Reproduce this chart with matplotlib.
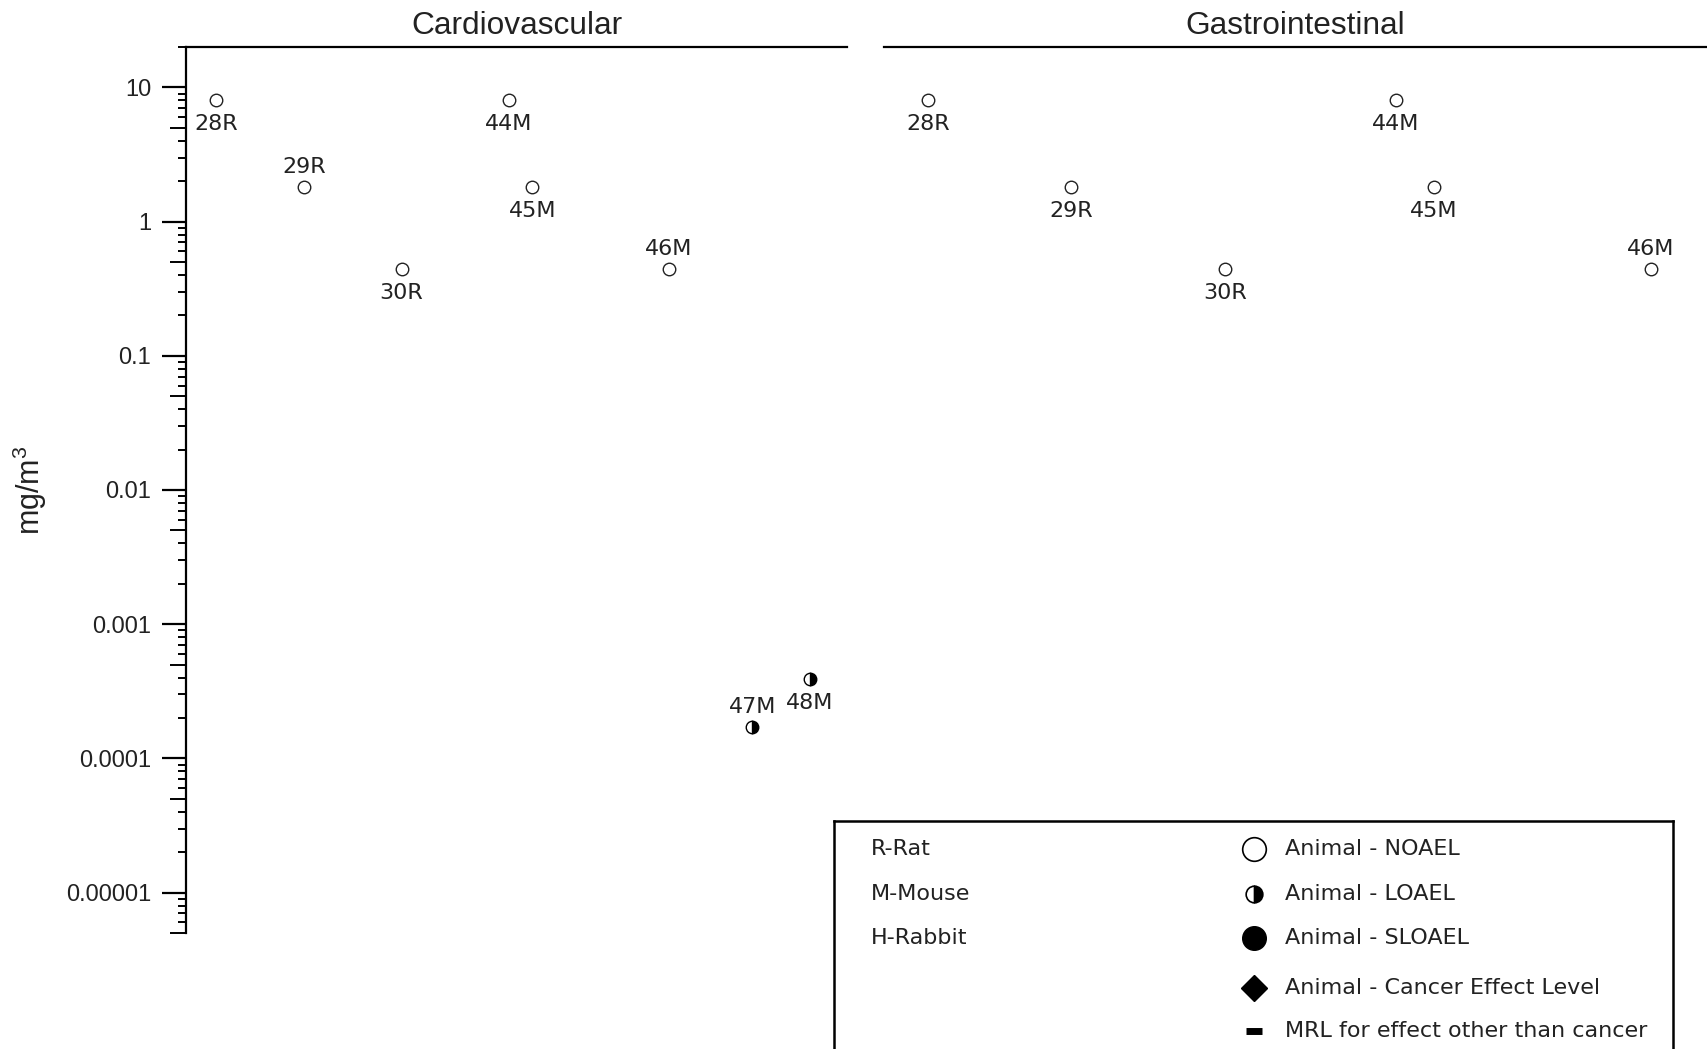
import matplotlib

matplotlib.use("Agg")
import matplotlib.pyplot as plt
from matplotlib.ticker import FixedLocator, LogLocator, NullFormatter

# Levels of significant exposure, mg/m3, per study point
CARDIO_LABELS = ["28R", "29R", "30R", "44M", "45M", "46M", "47M", "48M"]
CARDIO_VALUES = [8.0, 1.8, 0.44, 8.0, 1.8, 0.44, 0.00017, 0.00039]
CARDIO_EFFECT = ["NOAEL", "NOAEL", "NOAEL", "NOAEL", "NOAEL", "NOAEL", "LOAEL", "LOAEL"]
CARDIO_POS = [0.045, 0.178, 0.326, 0.488, 0.524, 0.730, 0.857, 0.944]
CARDIO_LABEL_SIDE = ["below", "above", "below", "below", "below", "above", "above", "below"]

GASTRO_LABELS = ["28R", "29R", "30R", "44M", "45M", "46M"]
GASTRO_VALUES = [8.0, 1.8, 0.44, 8.0, 1.8, 0.44]
GASTRO_EFFECT = ["NOAEL", "NOAEL", "NOAEL", "NOAEL", "NOAEL", "NOAEL"]
GASTRO_POS = [0.054, 0.227, 0.414, 0.622, 0.668, 0.932]
GASTRO_LABEL_SIDE = ["below", "below", "below", "below", "below", "above"]

Y_TICKS = [10, 1, 0.1, 0.01, 0.001, 0.0001, 0.00001]
Y_TICK_LABELS = ["10", "1", "0.1", "0.01", "0.001", "0.0001", "0.00001"]

SPECIES_KEY = ["R-Rat", "M-Mouse", "H-Rabbit"]
SYMBOL_KEY = [
    "Animal - NOAEL",
    "Animal - LOAEL",
    "Animal - SLOAEL",
    "Animal - Cancer Effect Level",
    "MRL for effect other than cancer",
]

AXIS_FONT = "Liberation Sans"
LABEL_FONT = "DejaVu Sans"

plt.rcParams.update(
    {
        "mathtext.fontset": "custom",
        "mathtext.rm": "Liberation Sans",
        "mathtext.it": "Liberation Sans:italic",
        "mathtext.bf": "Liberation Sans:bold",
    }
)

MARKER_STYLE = {
    "NOAEL": dict(marker="o", markerfacecolor="white", markeredgecolor="#222222"),
    "LOAEL": dict(marker="o", fillstyle="right", markerfacecolor="black",
                  markerfacecoloralt="white", markeredgecolor="black"),
}


def plot_panel(ax, pos, values, effects, labels, sides):
    for x, y, eff, lab, side in zip(pos, values, effects, labels, sides):
        ax.plot([x], [y], linestyle="none", markersize=9, markeredgewidth=1.0,
                zorder=3, **MARKER_STYLE[eff])
        dy = -17 if side == "below" else 15
        ax.annotate(lab, (x, y), xytext=(0, dy), textcoords="offset points",
                    ha="center", va="center", fontsize=16, family=LABEL_FONT,
                    color="#222222")


fig = plt.figure(figsize=(17.07, 10.49), dpi=100)
ax_l = fig.add_axes([0.1090, 0.1106, 0.3872, 0.8446])
ax_r = fig.add_axes([0.5179, 0.1106, 0.4821, 0.8446], sharey=ax_l)

for ax in (ax_l, ax_r):
    ax.set_yscale("log")
    ax.set_ylim(5e-6, 20)
    ax.set_xlim(0, 1)
    ax.set_xticks([])
    for side in ("right", "bottom"):
        ax.spines[side].set_visible(False)
    ax.spines["top"].set_linewidth(1.6)
    ax.spines["left"].set_linewidth(1.6)

ax_r.spines["left"].set_visible(False)
ax_r.tick_params(axis="y", which="both", left=False, labelleft=False)

plot_panel(ax_l, CARDIO_POS, CARDIO_VALUES, CARDIO_EFFECT, CARDIO_LABELS, CARDIO_LABEL_SIDE)
plot_panel(ax_r, GASTRO_POS, GASTRO_VALUES, GASTRO_EFFECT, GASTRO_LABELS, GASTRO_LABEL_SIDE)

ax_l.yaxis.set_major_locator(FixedLocator(Y_TICKS))
ax_l.set_yticklabels(Y_TICK_LABELS, family=AXIS_FONT, fontsize=17, color="#222222")
ax_l.yaxis.set_minor_locator(LogLocator(base=10, subs=[2, 3, 4, 6, 7, 8, 9], numticks=20))
ax_l.yaxis.set_minor_formatter(NullFormatter())
ax_l.tick_params(axis="y", which="major", length=17, width=1.6, pad=8)
ax_l.tick_params(axis="y", which="minor", length=6, width=1.4)

# medium ticks at the 5 x 10^k positions
mid = ax_l.secondary_yaxis("left")
mid.set_yscale("log")
mid.yaxis.set_major_locator(LogLocator(base=10, subs=[5], numticks=20))
mid.yaxis.set_minor_locator(FixedLocator([]))
mid.tick_params(axis="y", which="major", length=11.5, width=1.4, labelleft=False)
mid.spines["left"].set_visible(False)

ax_l.set_ylabel("mg/m$^{3}$", family=AXIS_FONT, fontsize=22, color="#222222")
ax_l.yaxis.set_label_coords(-0.207, 0.5)

ax_l.set_title("Cardiovascular", family=AXIS_FONT, fontsize=22.8, pad=9, color="#222222")
ax_r.set_title("Gastrointestinal", family=AXIS_FONT, fontsize=22.8, pad=9, color="#222222")

# key box (its lower edge runs off the page, as in the source figure)
key = fig.add_axes([0.4886, -0.020, 0.4915, 0.2374])
key.set_xlim(0, 1)
key.set_ylim(0, 1)
key.set_xticks([])
key.set_yticks([])
for s in key.spines.values():
    s.set_linewidth(1.8)

row_y = [0.888, 0.707, 0.530, 0.328, 0.157]
for name, y in zip(SPECIES_KEY, row_y):
    key.text(0.044, y, name, family=LABEL_FONT, fontsize=16, va="center", color="#222222")

key_marks = [
    dict(marker="o", markersize=17, markerfacecolor="white", markeredgecolor="black", markeredgewidth=1.2),
    dict(marker="o", markersize=12, fillstyle="right", markerfacecolor="black",
         markerfacecoloralt="white", markeredgecolor="black", markeredgewidth=1.2),
    dict(marker="o", markersize=17, markerfacecolor="black", markeredgecolor="black"),
    dict(marker="D", markersize=13, markerfacecolor="black", markeredgecolor="black"),
    dict(marker="_", markersize=12, markeredgewidth=5, color="black"),
]
for label, style, y in zip(SYMBOL_KEY, key_marks, row_y):
    key.plot([0.5006], [y], linestyle="none", **style)
    key.text(0.5375, y, label, family=LABEL_FONT, fontsize=16, va="center", color="#222222")

fig.savefig("out.png", dpi=100)
